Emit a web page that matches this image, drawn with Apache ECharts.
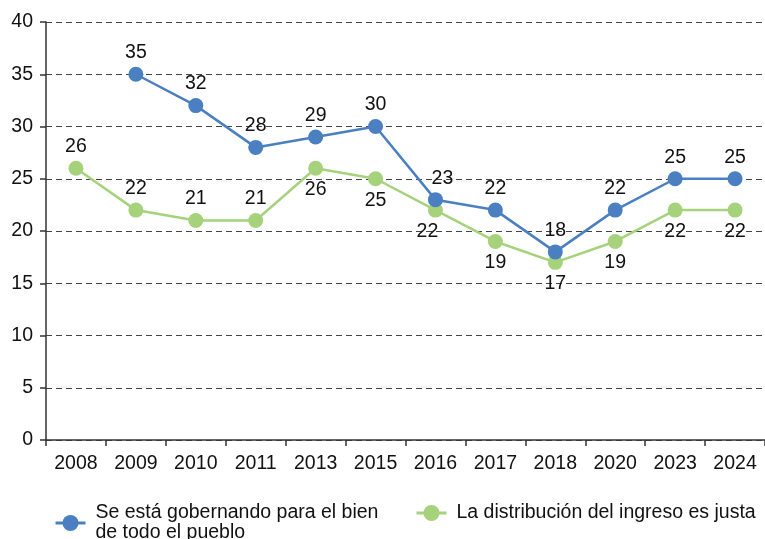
<!DOCTYPE html>
<html>
<head>
<meta charset="utf-8">
<script src="https://cdn.jsdelivr.net/npm/echarts@6/dist/echarts.min.js"></script>
<style>
  html, body { margin: 0; padding: 0; background: #fff; }
  #chart { width: 765px; height: 539px; }
</style>
</head>
<body>
<div id="chart"></div>
<script>
const categories = ['2008', '2009', '2010', '2011', '2013', '2015', '2016', '2017', '2018', '2020', '2023', '2024']
const gobernando = [null, 35, 32, 28, 29, 30, 23, 22, 18, 22, 25, 25]
const distribucion = [26, 22, 21, 21, 26, 25, 22, 19, 17, 19, 22, 22]
const yTicks = [0, 5, 10, 15, 20, 25, 30, 35, 40]

const nameA = 'Se está gobernando para el bien\nde todo el pueblo'
const nameB = 'La distribución del ingreso es justa'

const BLUE = '#4a7fc1'
const GREEN = '#a5d27b'
const FONT = 'Liberation Sans, Arial, sans-serif'
const FS = 19.5

// where each label sits relative to its point
const placeA = categories.map(() => 'top')
const placeB = categories.map((c, i) => (i < 4 ? 'top' : 'bottom'))

function withLabels(values, places, nudge) {
  return values.map((v, i) => ({
    value: v,
    label: { position: places[i], offset: nudge[i] || [0, 0] }
  }))
}

const legendText = { fontSize: FS, color: '#111', fontFamily: FONT, lineHeight: 20, padding: [0, 0, 0, 5] }

const chart = echarts.init(document.getElementById('chart'))
chart.setOption({
  animation: false,
  textStyle: { fontFamily: FONT },
  grid: { left: 46, right: 0, top: 22, bottom: 99 },
  legend: [
    {
      data: [nameA],
      left: 49,
      top: 498,
      itemWidth: 30,
      itemHeight: 20,
      lineStyle: { width: 3 },
      textStyle: legendText
    },
    {
      data: [nameB],
      left: 410,
      top: 498,
      itemWidth: 30,
      itemHeight: 20,
      lineStyle: { width: 3 },
      textStyle: legendText
    }
  ],
  xAxis: {
    type: 'category',
    data: categories,
    boundaryGap: true,
    axisLine: { lineStyle: { color: '#333', width: 1.5 } },
    axisTick: { show: true, length: 6, lineStyle: { color: '#333', width: 1.5 } },
    axisLabel: { color: '#111', fontSize: FS, margin: 14, fontFamily: FONT }
  },
  yAxis: {
    type: 'value',
    min: yTicks[0],
    max: yTicks[yTicks.length - 1],
    interval: 5,
    axisLine: { show: true, lineStyle: { color: '#333', width: 1.5 } },
    axisTick: { show: true, length: 6, lineStyle: { color: '#333', width: 1.5 } },
    axisLabel: { color: '#111', fontSize: FS, margin: 13, fontFamily: FONT },
    splitLine: { lineStyle: { color: '#444', type: [6, 4], width: 1 } }
  },
  series: [
    {
      name: nameA,
      type: 'line',
      data: withLabels(gobernando, placeA, { 6: [7, 0] }),
      color: BLUE,
      symbol: 'circle',
      symbolSize: 15,
      lineStyle: { width: 2.5, color: BLUE },
      label: { show: true, fontSize: FS, color: '#111', distance: 4, fontFamily: FONT },
      z: 3
    },
    {
      name: nameB,
      type: 'line',
      data: withLabels(distribucion, placeB, { 6: [-8, 0] }),
      color: GREEN,
      symbol: 'circle',
      symbolSize: 15,
      lineStyle: { width: 2.5, color: GREEN },
      label: { show: true, fontSize: FS, color: '#111', distance: 4, fontFamily: FONT },
      z: 2
    }
  ]
})
</script>
</body>
</html>
